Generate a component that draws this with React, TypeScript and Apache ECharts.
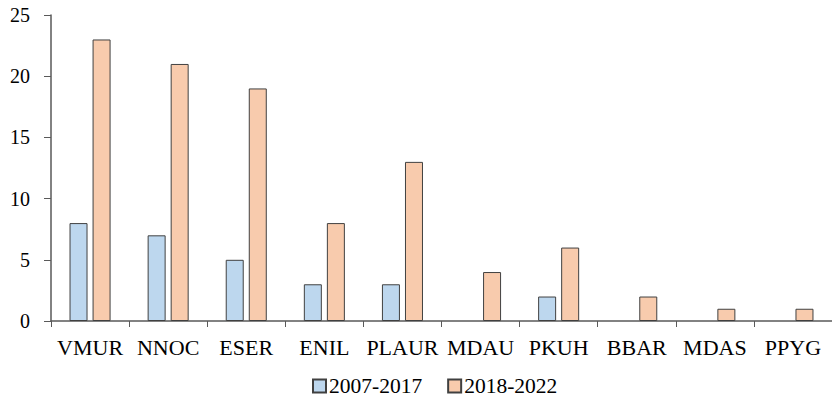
import React, { useEffect, useRef } from "react";
import * as echarts from "echarts";

const categories = ["VMUR", "NNOC", "ESER", "ENIL", "PLAUR", "MDAU", "PKUH", "BBAR", "MDAS", "PPYG"];
const series2007 = [8, 7, 5, 3, 3, 0, 2, 0, 0, 0];
const series2018 = [23, 21, 19, 8, 13, 4, 6, 2, 1, 1];
const seriesNames = ["2007-2017", "2018-2022"];

const hideZero = (arr: number[]) => arr.map((v) => (v === 0 ? null : v));

export default function App() {
  const ref = useRef<HTMLDivElement>(null);
  useEffect(() => {
    if (!ref.current) return;
    const chart = echarts.init(ref.current, null, { renderer: "svg" });
    const font = "'Liberation Serif', 'Times New Roman', serif";
    chart.setOption({
      animation: false,
      grid: { left: 51, top: 15, width: 787, height: 306, containLabel: false },
      legend: {
        top: 370,
        left: 307,
        itemWidth: 13,
        itemHeight: 13,
        itemGap: 25,
        icon: "rect",
        textStyle: { fontFamily: font, fontSize: 21.5, color: "#000", padding: [0, 0, 0, -2] },
        data: seriesNames,
      },
      xAxis: {
        type: "category",
        data: categories,
        axisLine: { lineStyle: { color: "#595959", width: 1.5 } },
        axisTick: { show: true, length: 6, lineStyle: { color: "#595959" } },
        axisLabel: { fontFamily: font, fontSize: 22, color: "#000", margin: 15, interval: 0 },
      },
      yAxis: {
        type: "value",
        min: 0,
        max: 25,
        interval: 5,
        splitLine: { show: false },
        axisLine: { show: true, lineStyle: { color: "#595959", width: 1.5 } },
        axisTick: { show: true, length: 7, inside: false, lineStyle: { color: "#595959" } },
        axisLabel: { fontFamily: font, fontSize: 20, color: "#000", margin: 21 },
      },
      series: [
        {
          name: seriesNames[0],
          type: "bar",
          data: hideZero(series2007),
          barWidth: 18,
          barGap: "28%",
          itemStyle: { color: "#BDD7EE", borderColor: "#404040", borderWidth: 1 },
        },
        {
          name: seriesNames[1],
          type: "bar",
          data: hideZero(series2018),
          barWidth: 18,
          barGap: "28%",
          itemStyle: { color: "#F8CBAD", borderColor: "#404040", borderWidth: 1 },
        },
      ],
    });
    return () => chart.dispose();
  }, []);
  return (
    <div
      ref={ref}
      style={{ position: "absolute", left: 0, top: 0, width: 832, height: 408 }}
    />
  );
}
